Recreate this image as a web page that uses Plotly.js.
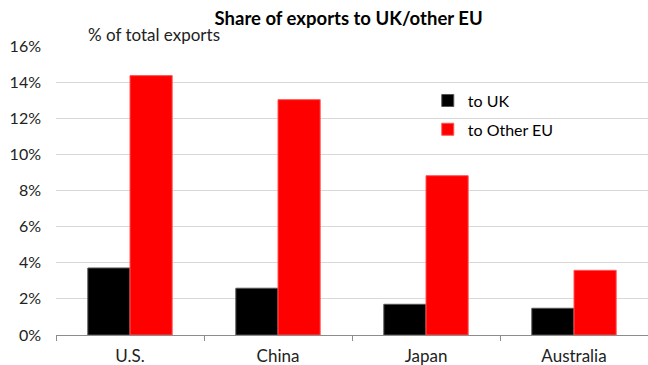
<!DOCTYPE html>
<html>
<head>
<meta charset="utf-8">
<script src="https://cdn.plot.ly/plotly-3.0.1.min.js"></script>
<style>html,body{margin:0;padding:0;background:#fff;}#chart{width:648px;height:365px;}</style>
</head>
<body>
<div id="chart"></div>
<script>
const categories = ["U.S.", "China", "Japan", "Australia"];
const toUK = [3.71, 2.59, 1.70, 1.48];
const toOtherEU = [14.36, 13.03, 8.82, 3.58];
const yTickVals = [0, 2, 4, 6, 8, 10, 12, 14, 16];
const yTickText = ["0%", "2%", "4%", "6%", "8%", "10%", "12%", "14%", "16%"];

const font = "Lato, 'Open Sans', sans-serif";

const traces = [
  {type: "bar", name: "to UK", x: categories, y: toUK, legendgroup: "a",
   marker: {color: "#000000", line: {color: "#555555", width: 1}}},
  {type: "bar", name: "to Other EU", x: categories, y: toOtherEU, legendgroup: "b",
   marker: {color: "#ff0000", line: {color: "#ff5555", width: 1}}}
];

const layout = {
  width: 648, height: 365,
  margin: {l: 56, r: 0, t: 46, b: 30},
  paper_bgcolor: "#ffffff", plot_bgcolor: "#ffffff",
  font: {family: font, size: 16, color: "#222"},
  title: {text: "<b>Share of exports to UK/other EU</b>", x: 0.538, xanchor: "center", y: 0.95, yanchor: "middle",
          font: {family: font, size: 18.5, color: "#000"}},
  barmode: "group", bargap: 0.43, bargroupgap: 0,
  xaxis: {showgrid: false, showline: true, linecolor: "#8c8c8c", linewidth: 1,
          ticks: "outside", tickson: "boundaries", ticklen: 5, tickcolor: "#8c8c8c",
          ticklabelstandoff: 6,
          tickfont: {family: font, size: 17, color: "#222"}, fixedrange: true},
  yaxis: {range: [0, 16], tickvals: yTickVals, ticktext: yTickText, showgrid: true,
          gridcolor: "#d9d9d9", gridwidth: 1, zeroline: false, showline: false,
          ticks: "", ticklabelstandoff: 14,
          tickfont: {family: font, size: 16, color: "#222"}, fixedrange: true},
  showlegend: true,
  legend: {x: 0.628, xanchor: "left", y: 0.87, yanchor: "top", tracegroupgap: 5,
           font: {family: font, size: 16, color: "#000"}, bgcolor: "rgba(0,0,0,0)"},
  annotations: [
    {text: "% of total exports", xref: "paper", yref: "paper", x: 0.05, y: 0.995, xanchor: "left", yanchor: "bottom",
     showarrow: false, font: {family: font, size: 17, color: "#222"}}
  ]
};

Plotly.newPlot("chart", traces, layout, {displayModeBar: false, staticPlot: true});
</script>
</body>
</html>
